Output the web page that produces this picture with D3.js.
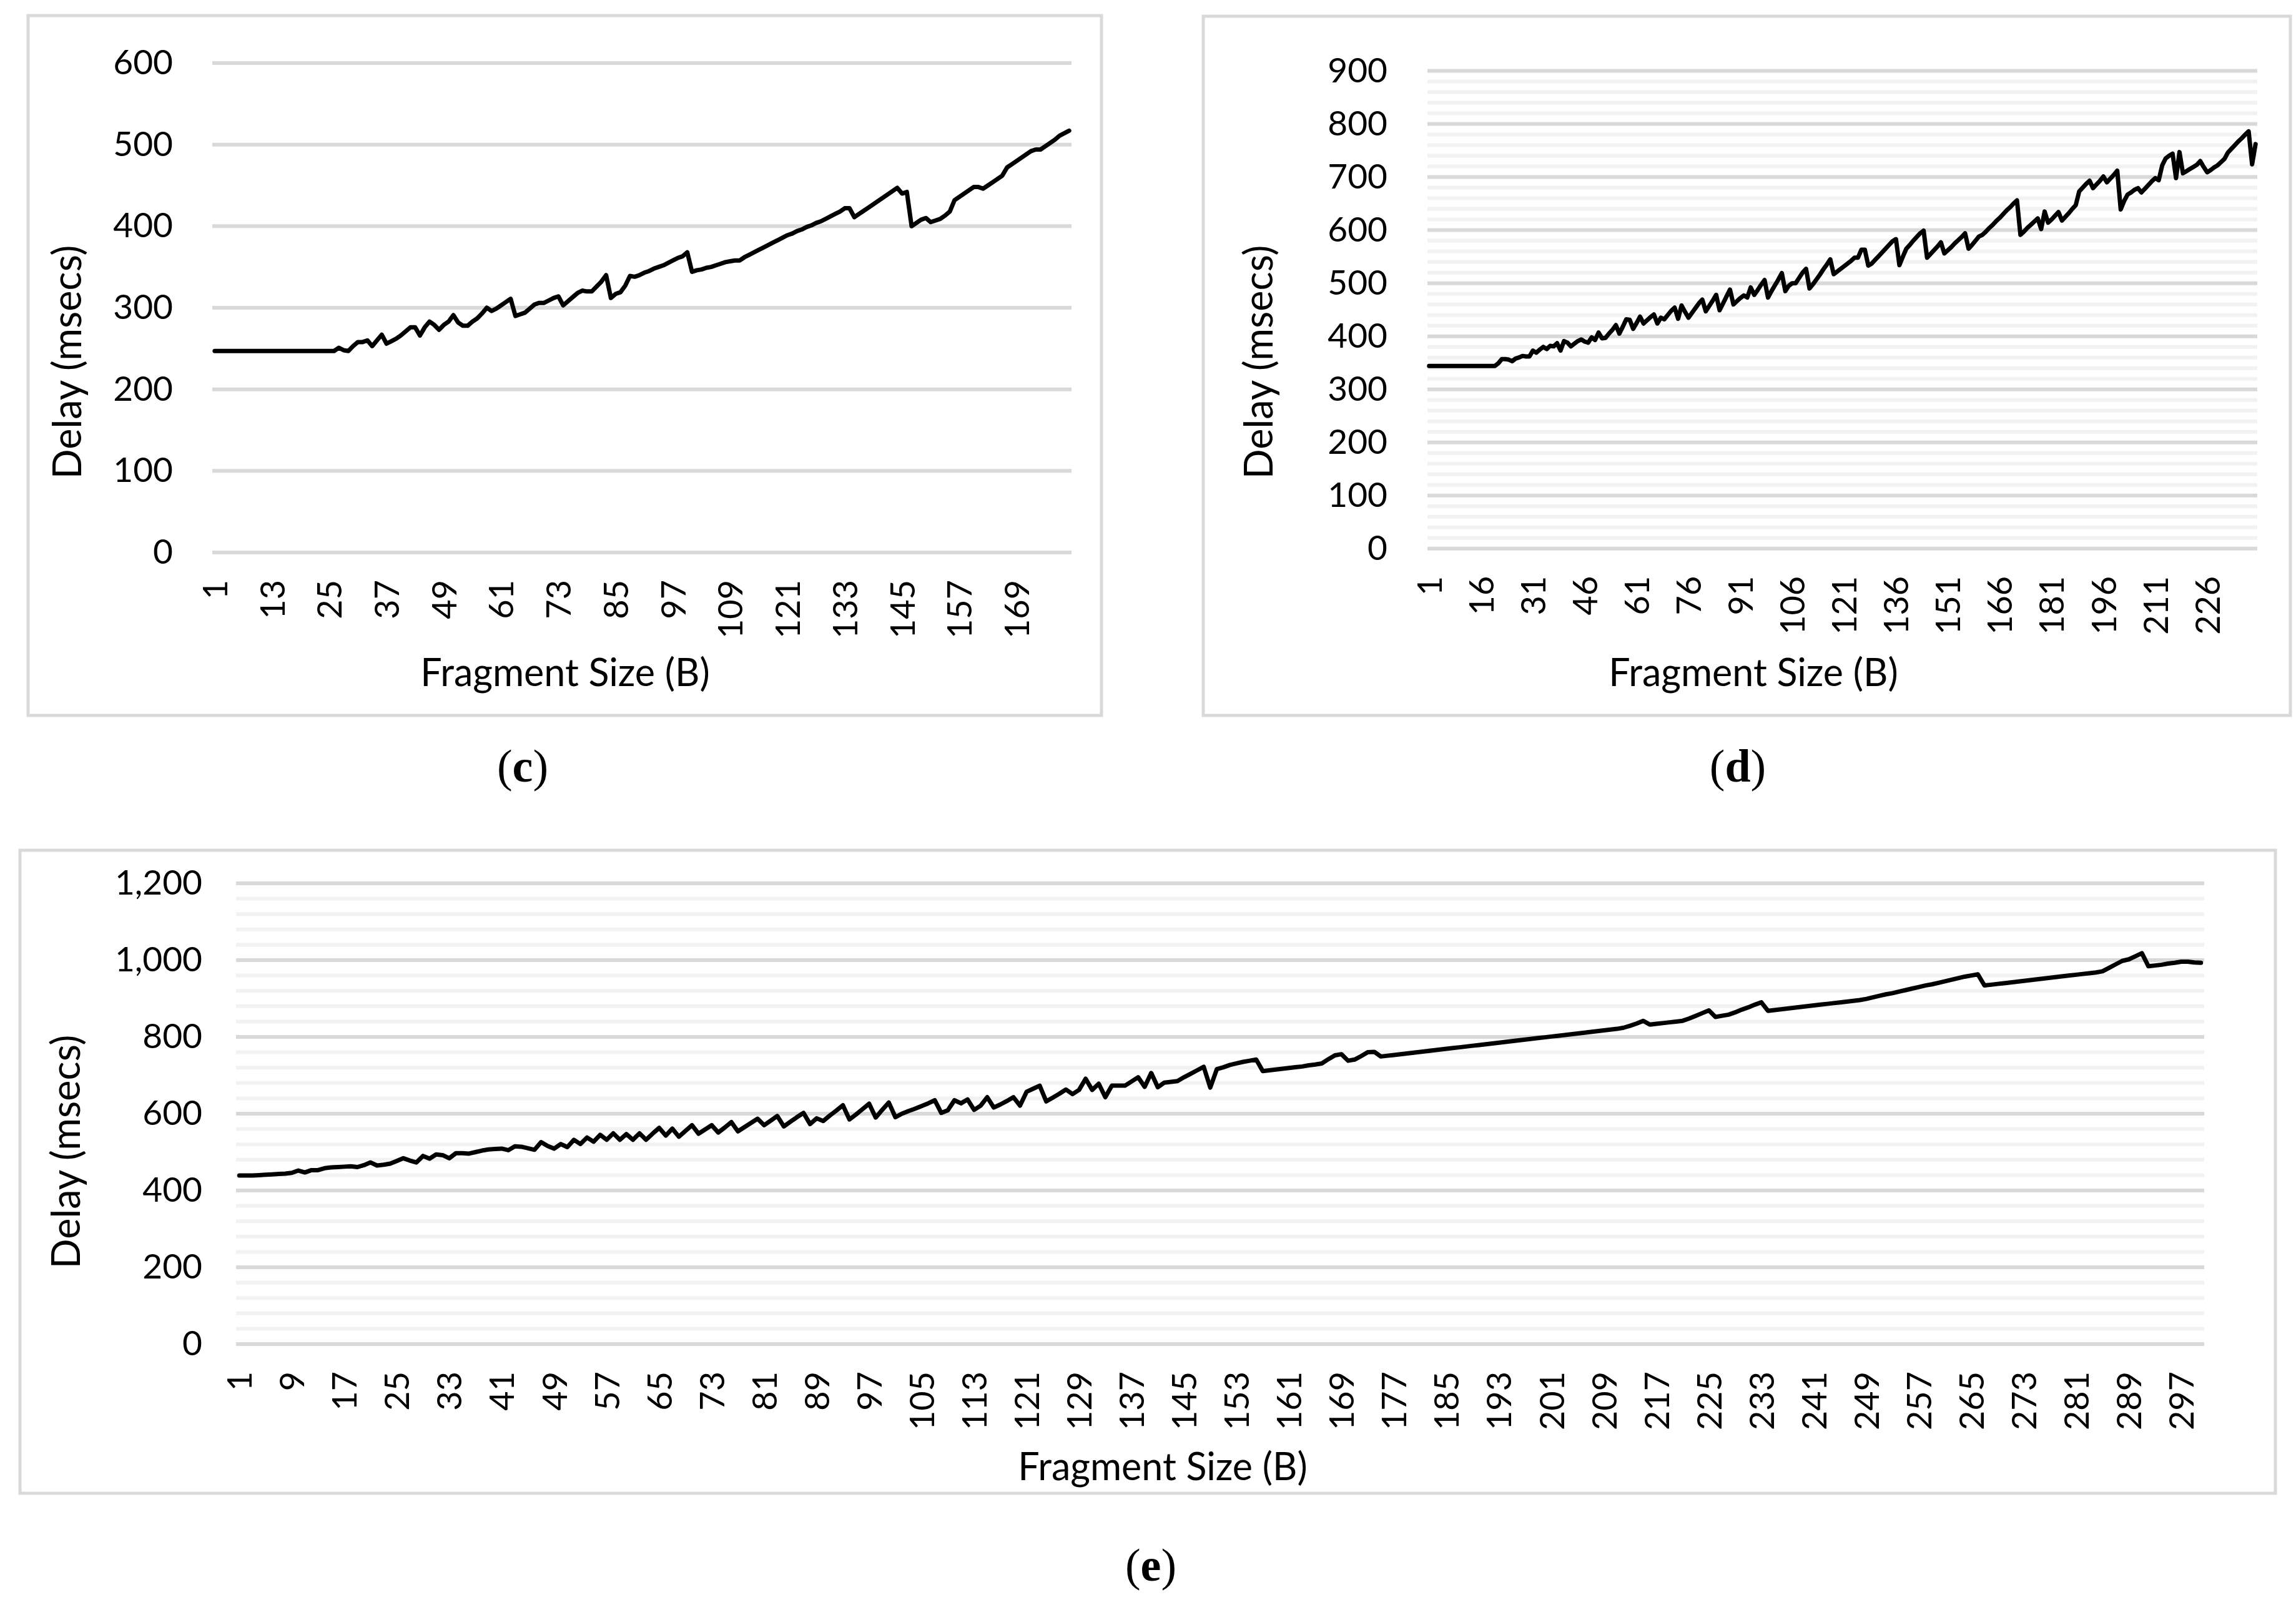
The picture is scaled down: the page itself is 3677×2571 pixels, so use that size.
<!DOCTYPE html>
<html><head><meta charset="utf-8">
<script src="https://cdn.jsdelivr.net/npm/d3@7"></script>
<style>html,body{margin:0;padding:0;background:#fff;}svg{display:block}</style>
</head><body>
<svg id="chart" width="3677" height="2571"></svg>
<script>
// ---------- DATA ----------
const delayC = [247,247,247,247,247,247,247,247,247,247,
247,247,247,247,247,247,247,247,247,247,
247,247,247,247,247,247,251,248,247,253,
258,258,260,253,260,267,256,259,262,266,
271,276,276,266,276,283,279,273,279,283,
291,282,278,278,283,287,293,300,296,299,
303,307,311,290,292,294,299,304,306,306,
309,312,314,303,308,313,318,321,320,320,
326,332,340,312,317,319,327,339,338,340,
343,345,348,350,352,355,358,361,363,368,
344,346,347,349,350,352,354,356,357,358,
358,362,365,368,371,374,377,380,383,386,
389,391,394,396,399,401,404,406,409,412,
415,418,422,422,411,415,419,423,427,431,
435,439,443,447,440,442,400,404,408,410,
405,407,409,413,418,432,436,440,444,448,
448,446,450,454,458,462,472,476,480,484,
488,492,494,494,498,502,506,511,514,517];

const delayD = [344,344,344,344,344,344,344,344,344,344,
344,344,344,344,344,344,344,344,344,344,
349,357,357,356,353,358,360,363,362,362,
373,369,375,380,376,382,381,387,373,391,
388,381,386,391,394,390,388,398,393,407,
396,397,405,412,421,405,418,432,431,414,
425,437,424,430,436,441,424,435,432,440,
448,454,433,458,446,435,444,453,462,469,
447,457,467,478,449,462,475,488,460,466,
472,477,473,492,478,487,497,506,473,485,
496,507,519,485,495,500,500,510,520,527,
490,498,507,516,526,535,545,517,522,527,
532,537,542,548,548,563,563,533,537,544,
551,558,565,572,579,583,534,550,565,572,
580,587,594,599,548,555,562,569,577,556,
562,568,575,581,587,594,565,572,580,588,
591,597,604,610,617,623,630,637,643,650,
656,591,597,604,610,616,622,602,635,614,
620,627,634,618,625,632,640,647,673,680,
687,693,679,686,693,701,690,697,704,712,
639,655,667,671,676,679,671,678,685,692,
698,694,722,735,740,744,698,747,707,711,
715,719,723,730,719,709,713,718,722,728,
734,746,753,760,767,773,780,786,724,762];

const delayE = [439,439,439,440,441,442,443,444,446,452,
447,453,453,458,460,461,462,463,461,466,
473,465,467,470,477,484,478,473,490,483,
494,492,484,497,497,496,500,504,507,508,
509,505,515,514,510,506,526,516,509,521,
513,532,521,538,527,545,532,549,532,547,
532,549,532,548,563,543,561,540,555,570,
548,559,570,551,564,578,554,565,576,587,
570,582,594,567,579,591,602,573,588,581,
595,608,622,585,598,612,626,590,610,629,
591,600,607,613,620,627,635,602,609,635,
627,637,610,621,643,616,624,633,643,621,
657,665,673,632,642,652,663,651,662,691,
662,678,643,673,673,673,684,695,670,706,
669,681,683,685,695,704,713,722,668,716,
721,727,731,735,738,741,711,713,715,717,
719,721,723,726,728,731,742,752,755,738,
741,750,760,761,749,751,753,755,757,759,
761,763,765,767,769,771,773,775,777,779,
781,783,785,787,789,791,793,795,797,799,
801,803,805,807,809,811,813,815,817,819,
821,824,829,835,842,832,834,836,838,840,
842,848,855,862,869,852,855,858,864,871,
877,884,890,868,870,872,874,876,878,880,
882,884,886,888,890,892,894,896,899,903,
907,911,914,918,922,926,930,934,937,941,
945,949,953,957,960,963,934,936,938,940,
942,944,946,948,950,952,954,956,958,960,
962,964,966,968,971,980,989,998,1002,1010,
1018,984,986,988,991,993,996,996,994,993];

const xTicksC = [1,13,25,37,49,61,73,85,97,109,121,133,145,157,169];
const xTicksD = [1,16,31,46,61,76,91,106,121,136,151,166,181,196,211,226];
const xTicksE = [1,9,17,25,33,41,49,57,65,73,81,89,97,105,113,121,129,137,145,153,161,169,177,185,193,201,209,217,225,233,241,249,257,265,273,281,289,297];
const yTicksC = [0,100,200,300,400,500,600];
const yTicksD = [0,100,200,300,400,500,600,700,800,900];
const yTicksE = [0,200,400,600,800,1000,1200];
const xTitle = "Fragment Size (B)";
const yTitle = "Delay (msecs)";
const captions = ["c","d","e"];

// ---------- LAYOUT ----------
const FONT = "Lato, 'Open Sans', sans-serif";
const panels = [
  {data: delayC, xTicks: xTicksC, yTicks: yTicksC, yMax: 600, minorStep: 0,
   box: [45, 25, 1764, 1146], plot: [340, 101, 1716, 885], yLabelX: 277,
   yTitlePos: [108, 580], xTitlePos: [905, 1078], capPos: [837, 1226], cap: captions[0]},
  {data: delayD, xTicks: xTicksD, yTicks: yTicksD, yMax: 900, minorStep: 20,
   box: [1927, 26, 3668, 1146], plot: [2286, 113.5, 3615, 878.8], yLabelX: 2222,
   yTitlePos: [2016, 580], xTitlePos: [2808, 1078], capPos: [2783, 1226], cap: captions[1]},
  {data: delayE, xTicks: xTicksE, yTicks: yTicksE, yMax: 1200, minorStep: 40,
   box: [32, 1362, 3644, 2392], plot: [378, 1415, 3530, 2153], yLabelX: 324,
   yTitlePos: [106, 1845], xTitlePos: [1862, 2350], capPos: [1843, 2506], cap: captions[2]}
];

const svg = d3.select("#chart");
svg.append("rect").attr("width", 3677).attr("height", 2571).attr("fill", "#fff");

panels.forEach(p => {
  const [bx0, by0, bx1, by1] = p.box;
  const [l, t, r, b] = p.plot;
  const g = svg.append("g");
  g.append("rect").attr("x", bx0).attr("y", by0).attr("width", bx1 - bx0).attr("height", by1 - by0)
    .attr("fill", "#fff").attr("stroke", "#d9d9d9").attr("stroke-width", 5);

  const N = p.data.length;
  const x = d3.scalePoint().domain(d3.range(1, N + 1)).range([l, r]).padding(0.5);
  const y = d3.scaleLinear().domain([0, p.yMax]).range([b, t]);

  if (p.minorStep) {
    const minor = d3.range(0, p.yMax + 0.001, p.minorStep).filter(v => !p.yTicks.includes(v));
    g.append("g").selectAll("line").data(minor).join("line")
      .attr("x1", l).attr("x2", r).attr("y1", d => y(d)).attr("y2", d => y(d))
      .attr("stroke", "#f2f2f2").attr("stroke-width", 6);
  }
  g.append("g").selectAll("line").data(p.yTicks).join("line")
    .attr("x1", l).attr("x2", r).attr("y1", d => y(d)).attr("y2", d => y(d))
    .attr("stroke", "#d9d9d9").attr("stroke-width", 6);

  // y axis
  const ya = g.append("g").attr("transform", `translate(${l},0)`)
    .call(d3.axisLeft(y).tickValues(p.yTicks).tickSize(0).tickPadding(l - p.yLabelX).tickFormat(d3.format(",")));
  ya.select(".domain").remove();
  ya.selectAll("text").attr("font-family", FONT).attr("font-size", 55).attr("fill", "#000");

  // x axis
  const xa = g.append("g").attr("transform", `translate(0,${b})`)
    .call(d3.axisBottom(x).tickValues(p.xTicks).tickSize(0));
  xa.select(".domain").remove();
  xa.selectAll("text").attr("font-family", FONT).attr("font-size", 54).attr("fill", "#000")
    .attr("transform", "rotate(-90)").attr("text-anchor", "end")
    .attr("x", -44).attr("y", 0).attr("dy", "0.36em");

  // line
  const line = d3.line().x((d, i) => x(i + 1)).y(d => y(d));
  g.append("path").datum(p.data).attr("d", line).attr("fill", "none")
    .attr("stroke", "#000").attr("stroke-width", 7).attr("stroke-linejoin", "round").attr("stroke-linecap", "round");

  // titles
  g.append("text").attr("transform", `translate(${p.yTitlePos[0]},${p.yTitlePos[1]}) rotate(-90)`)
    .attr("text-anchor", "middle").attr("dy", "0.35em").attr("font-family", FONT).attr("font-size", 63)
    .attr("fill", "#000").text(yTitle);
  g.append("text").attr("x", p.xTitlePos[0]).attr("y", p.xTitlePos[1]).attr("dy", "0.35em")
    .attr("text-anchor", "middle").attr("font-family", FONT).attr("font-size", 61)
    .attr("fill", "#000").text(xTitle);

  // caption
  const c = svg.append("text").attr("x", p.capPos[0]).attr("y", p.capPos[1]).attr("dy", "0.35em")
    .attr("text-anchor", "middle").attr("font-family", "'Liberation Serif', 'DejaVu Serif', serif")
    .attr("font-size", 74).attr("fill", "#000");
  c.append("tspan").text("(");
  c.append("tspan").attr("font-weight", "bold").text(p.cap);
  c.append("tspan").text(")");
});
</script>
</body></html>
